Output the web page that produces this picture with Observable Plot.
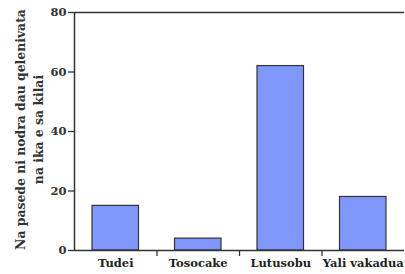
<!DOCTYPE html>
<html><head><meta charset="utf-8">
<script src="https://cdn.jsdelivr.net/npm/d3@7"></script>
<script src="https://cdn.jsdelivr.net/npm/@observablehq/plot@0.6"></script>
<style>body{margin:0;background:#fff}</style>
</head><body><div id="chart"></div>
<script>
const categories = ["Tudei", "Tosocake", "Lutusobu", "Yali vakadua"];
const values = [15, 4, 62, 18];
const yTicks = [0, 20, 40, 60, 80];
const yLabel = "Na pasede ni nodra dau qelenivata\nna ika e sa kilai";

const data = categories.map((c, i) => ({c, i, v: values[i]}));
const serif = "DejaVu Serif";

const chart = Plot.plot({
  width: 405, height: 274,
  marginLeft: 74, marginRight: 1, marginTop: 12, marginBottom: 24,
  style: "font-family: 'DejaVu Serif', serif; font-weight: bold; font-size: 11.5px; color: #333; background: #fff;",
  x: {domain: [0, 4], axis: null},
  y: {domain: [0, 80], axis: null},
  marks: [
    Plot.rectY(data, {x1: "i", x2: d => d.i + 1, y: "v", insetLeft: 18, insetRight: 18, fill: "#7f96fb", stroke: "#333", strokeWidth: 1.2}),
    Plot.axisY({ticks: yTicks, tickSize: 6, tickPadding: 2, label: null, strokeWidth: 1.3, fill: "#333", fontFamily: serif, fontSize: 11.5}),
    Plot.axisX({ticks: [1, 2, 3], tickSize: 6, tickFormat: () => "", label: null, strokeWidth: 1.3}),
    Plot.text(data, {x: d => d.i + 0.5, frameAnchor: "bottom", dy: 16, text: "c", fill: "#222", fontFamily: serif, fontSize: 11.5, fontWeight: "bold"}),
    Plot.ruleY([0, 80], {stroke: "#333", strokeWidth: 1.5}),
    Plot.ruleX([0], {y1: 0, y2: 80, stroke: "#333", strokeWidth: 1.5}),
    Plot.text([yLabel], {frameAnchor: "left", textAnchor: "middle", rotate: -90, dx: -46, dy: -2, lineHeight: 1.4, fontSize: 12.4, fontFamily: serif, fontWeight: "bold", text: d => d, fill: "#333"})
  ]
});
document.getElementById("chart").appendChild(chart);
</script>
</body></html>
